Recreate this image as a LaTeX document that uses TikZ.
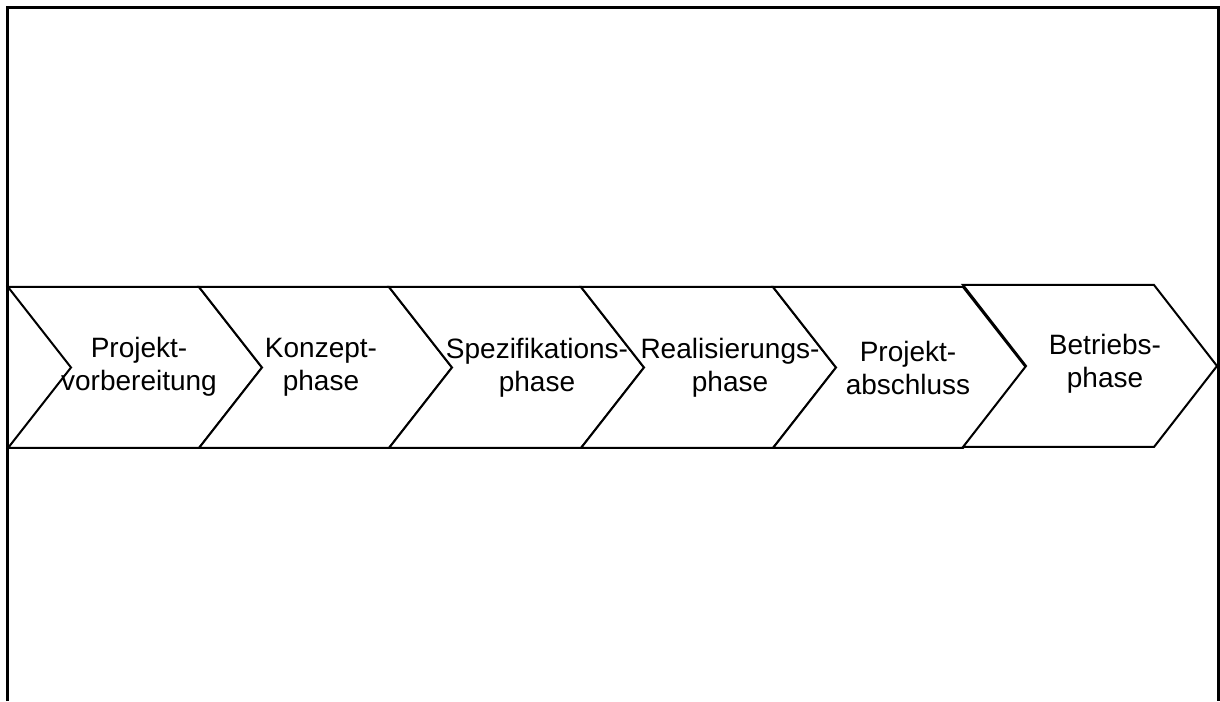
\documentclass[tikz,border=0pt]{standalone}
\usepackage{fontspec}
\setmainfont{Liberation Sans}
\usetikzlibrary{positioning}

\begin{document}
\begin{tikzpicture}
    [
        x=0.5pt, y=0.5pt,
        frame_line/.style={draw=black, line width=1.5pt},
        phase_shape/.style={draw=black, fill=white, line width=1pt, line join=miter},
        phase_text/.style={align=center, inner sep=0pt, font=\fontsize{14}{16.5}\selectfont},
    ]
        \useasboundingbox (0,0) rectangle (1220,701);
        \draw[frame_line] (7,0) -- (7,693) -- (1218,693) -- (1218,0);
        % chevrons: left corner / width / top / bottom
        \foreach \x/\w/\t/\b in {8/191/414/253, 199/190/414/253, 389/192/414/253, 581/192/414/253, 773/190/414/253, 963/191/416/254}
            \draw[phase_shape] (\x,\t) -- ++(\w,0) -- ++(63,{(\b-\t)/2}) -- ++(-63,{(\b-\t)/2}) -- (\x,\b) -- ++(63,{(\t-\b)/2}) -- cycle;
        \node[phase_text] (vorb) at (139,334) {Projekt-\\vorbereitung};
        \node[phase_text] (konz) at (321,334) {Konzept-\\phase};
        \node[phase_text] (spez) at (537,333) {Spezifikations-\\phase};
        \node[phase_text] (real) at (730,333) {Realisierungs-\\phase};
        \node[phase_text] (absc) at (908,333) {Projekt-\\abschluss};
        \node[phase_text] (betr) at (1105,337) {Betriebs-\\phase};
\end{tikzpicture}
\end{document}
